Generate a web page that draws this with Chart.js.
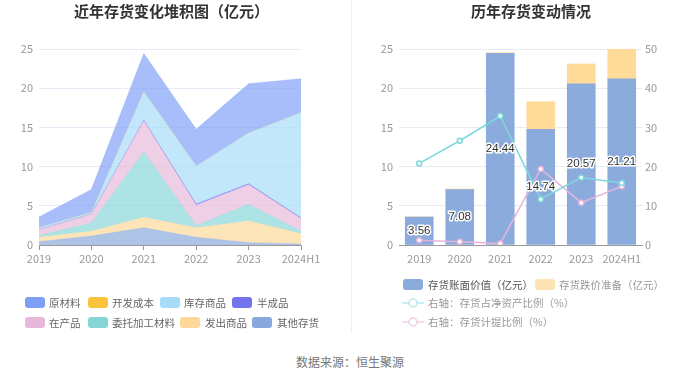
<!DOCTYPE html>
<html><head><meta charset="utf-8">
<script src="https://cdn.jsdelivr.net/npm/chart.js@4"></script>
<style>
html,body{margin:0;padding:0;background:#fff;}
#wrap{position:relative;width:700px;height:378px;overflow:hidden;font-family:"Noto Sans CJK SC","Noto Sans",sans-serif;}
canvas{position:absolute;top:0;}
.t{position:absolute;white-space:nowrap;}
.title{font-size:15px;font-weight:bold;color:#333;top:0;line-height:22px;}
.lg{font-size:10.5px;color:#666;line-height:14px;}
.box{position:absolute;width:20px;height:11px;border-radius:3px;}
</style></head>
<body><div id="wrap">
<canvas id="c1" width="350" height="275" style="left:0"></canvas>
<canvas id="c2" width="350" height="275" style="left:350px"></canvas>
<div style="position:absolute;left:351px;top:0;width:1px;height:333px;background:#eee"></div>
<div class="t title" style="left:74px">近年存货变化堆积图（亿元）</div>
<div class="t title" style="left:471px">历年存货变动情况</div>
<div id="legL"></div>
<div id="legR"></div>
<div class="t" style="left:296px;top:353px;font-size:12px;line-height:18px;color:#777">数据来源：恒生聚源</div>
</div>
<script>
const years = ['2019','2020','2021','2022','2023','2024H1'];
// left stacked area (亿元)
const otherInv   = [0.43, 1.15, 2.20, 0.98, 0.30, 0.13]; // 其他存货
const shipped    = [0.57, 0.59, 1.33, 1.22, 2.76, 1.32]; // 发出商品
const entrusted  = [0.20, 1.06, 8.37, 0.27, 2.13, 0.29]; // 委托加工材料
const wip        = [0.76, 1.15, 3.96, 2.59, 2.51, 1.62]; // 在产品
const semi       = [0.00, 0.00, 0.05, 0.14, 0.12, 0.08]; // 半成品
const goods      = [0.24, 0.22, 3.64, 4.88, 6.47, 13.46]; // 库存商品
const devCost    = [0, 0, 0, 0, 0, 0]; // 开发成本
const rawMat     = [1.36, 2.91, 4.89, 4.67, 6.29, 4.30]; // 原材料
// right chart
const bookValue  = [3.56, 7.08, 24.44, 14.74, 20.57, 21.21];
const provision  = [0.04, 0.06, 0.09, 3.54, 2.52, 3.75];
const ratioNet   = [20.8, 26.6, 32.9, 11.7, 17.2, 15.8];
const ratioProv  = [1.2, 0.8, 0.4, 19.4, 10.8, 15.0];
const leftTicks  = [0, 5, 10, 15, 20, 25];
const rightTicks = [0, 10, 20, 30, 40, 50];

Chart.defaults.font.family = '"Noto Sans CJK SC","Noto Sans",sans-serif';
Chart.defaults.animation = false;

const areaDefs = [
  {label:'其他存货', data:otherInv, c:'#86a8dc', f:'rgba(134,168,220,0.68)'},
  {label:'发出商品', data:shipped, c:'#fdd898', f:'rgba(253,216,152,0.68)'},
  {label:'委托加工材料', data:entrusted, c:'#86d6d8', f:'rgba(134,214,216,0.68)'},
  {label:'在产品', data:wip, c:'#e8b8da', f:'rgba(232,184,218,0.68)'},
  {label:'半成品', data:semi, c:'#7473ee', f:'rgba(116,115,238,0.68)'},
  {label:'库存商品', data:goods, c:'#a6dcf8', f:'rgba(166,220,248,0.68)'},
  {label:'开发成本', data:devCost, c:'#fbc33c', f:'rgba(251,195,60,0.68)'},
  {label:'原材料', data:rawMat, c:'#7f9ff7', f:'rgba(127,159,247,0.68)'}
];
new Chart(document.getElementById('c1'), {
  type:'line',
  data:{labels:years, datasets: areaDefs.map((d,i)=>({
    label:d.label, data:d.data, borderColor: d.label==='半成品' ? 'rgba(116,115,238,0.5)' : d.f,
    backgroundColor:d.f, fill: i===0 ? 'origin' : '-1', pointRadius:0, borderWidth: d.label==='半成品'?1:0.5, tension:0
  }))},
  options:{responsive:false, animation:false,
    layout:{padding:{top:49,right:49,left:0,bottom:0}},
    plugins:{legend:{display:false}, tooltip:{enabled:false}},
    scales:{
      x:{offset:false, grid:{display:true, drawOnChartArea:false, drawTicks:true, tickLength:5, color:'#999'},
         border:{color:'#999'},
         ticks:{color:'#999', font:{size:11}, padding:2, maxRotation:0, autoSkip:false},
         afterFit(s){s.height=30;}},
      y:{stacked:true, min:0, max:25, afterBuildTicks(s){s.ticks = leftTicks.map(v=>({value:v}));},
         grid:{color:'#e8eaf8', drawTicks:false}, border:{display:false},
         ticks:{color:'#999', font:{size:11}, padding:6},
         afterFit(s){s.width=39;}}
    }
  }
});

const labelPlugin = {
  id:'barLabels',
  afterDatasetsDraw(chart){
    const ctx = chart.ctx; const meta = chart.getDatasetMeta(0);
    ctx.save();
    ctx.font = '11.5px "Liberation Sans","Noto Sans",sans-serif';
    ctx.textAlign='center'; ctx.textBaseline='middle';
    ctx.lineJoin='round';
    meta.data.forEach((el,i)=>{
      const y=(el.y+el.base)/2; const txt=bookValue[i].toFixed(2);
      ctx.strokeStyle='#fff'; ctx.lineWidth=3; ctx.strokeText(txt, el.x, y);
      ctx.fillStyle='#333'; ctx.fillText(txt, el.x, y);
    });
    ctx.restore();
  }
};
new Chart(document.getElementById('c2'), {
  type:'bar',
  data:{labels:years, datasets:[
    {type:'bar', label:'存货账面价值（亿元）', data:bookValue, backgroundColor:'#8aabdb', stack:'s', yAxisID:'y', order:2},
    {type:'bar', label:'存货跌价准备（亿元）', data:provision, backgroundColor:'#fedb98', stack:'s', yAxisID:'y', order:2},
    {type:'line', label:'右轴：存货占净资产比例（%）', data:ratioNet, borderColor:'#7dd8dc', borderWidth:1.5,
      pointRadius:2.5, pointBackgroundColor:'#fff', pointBorderColor:'#7dd8dc', pointBorderWidth:1.5, yAxisID:'y1', order:1, tension:0},
    {type:'line', label:'右轴：存货计提比例（%）', data:ratioProv, borderColor:'#e8b4dc', borderWidth:1.5,
      pointRadius:2.5, pointBackgroundColor:'#fff', pointBorderColor:'#e8b4dc', pointBorderWidth:1.5, yAxisID:'y1', order:1, tension:0}
  ]},
  options:{responsive:false, animation:false,
    layout:{padding:{top:49,right:0,left:0,bottom:0}},
    datasets:{bar:{barThickness:28}},
    plugins:{legend:{display:false}, tooltip:{enabled:false}},
    scales:{
      x:{stacked:true, offset:true, grid:{display:false, drawTicks:false},
         border:{display:true, color:'#999'},
         ticks:{color:'#999', font:{size:11}, padding:7, maxRotation:0, autoSkip:false},
         afterFit(s){s.height=30;}},
      y:{stacked:true, position:'left', min:0, max:25, afterBuildTicks(s){s.ticks = leftTicks.map(v=>({value:v}));},
         grid:{color:'#e8ecf6', drawTicks:false}, border:{display:false},
         ticks:{color:'#999', font:{size:11}, padding:6},
         afterFit(s){s.width=49;}},
      y1:{position:'right', min:0, max:50, afterBuildTicks(s){s.ticks = rightTicks.map(v=>({value:v}));},
         grid:{display:false, drawTicks:false}, border:{display:false},
         ticks:{color:'#999', font:{size:11}, padding:3},
         afterFit(s){s.width=58;}}
    }
  },
  plugins:[labelPlugin]
});

// HTML legends
function addBox(parent, x, y, color, text, tx, textColor){
  const b=document.createElement('div'); b.className='box'; b.style.left=x+'px'; b.style.top=y+'px'; b.style.background=color; parent.appendChild(b);
  const t=document.createElement('div'); t.className='t lg'; t.style.left=tx+'px'; t.style.top=(y+5.5-7)+'px'; t.textContent=text;
  if(textColor) t.style.color=textColor; parent.appendChild(t);
}
const legL=document.getElementById('legL');
const lgItems=[
  [25,297,'#7f9ff7','原材料',49],[88,297,'#fbc33c','开发成本',112],[160,297,'#a6dcf8','库存商品',184],[232,297,'#7473ee','半成品',257],
  [25,317,'#e8b8da','在产品',49],[88,317,'#86d6d8','委托加工材料',112],[180,317,'#fdd898','发出商品',205],[252,317,'#86a8dc','其他存货',277]
];
lgItems.forEach(a=>addBox(legL,a[0],a[1],a[2],a[3],a[4]));
const legR=document.getElementById('legR');
addBox(legR,403,279,'#8aabdb','存货账面价值（亿元）',428,'#555');
addBox(legR,535,279,'#fee3b3','存货跌价准备（亿元）',559,'#999');
function addLine(parent,x,cy,color,text){
  const c=document.createElement('canvas'); c.width=22; c.height=12; c.style.position='absolute'; c.style.left=x+'px'; c.style.top=(cy-6)+'px';
  const g=c.getContext('2d'); g.strokeStyle=color; g.lineWidth=1.5;
  g.beginPath(); g.moveTo(0,6); g.lineTo(22,6); g.stroke();
  g.beginPath(); g.arc(11,6,4,0,Math.PI*2); g.fillStyle='#fff'; g.fill(); g.stroke();
  parent.appendChild(c);
  const t=document.createElement('div'); t.className='t lg'; t.style.left='428px'; t.style.top=(cy-7)+'px'; t.style.color='#999'; t.textContent=text; parent.appendChild(t);
}
addLine(legR,402,303,'#b5e9ec','右轴：存货占净资产比例（%）');
addLine(legR,402,322,'#f2cfe8','右轴：存货计提比例（%）');
</script>
</body></html>
